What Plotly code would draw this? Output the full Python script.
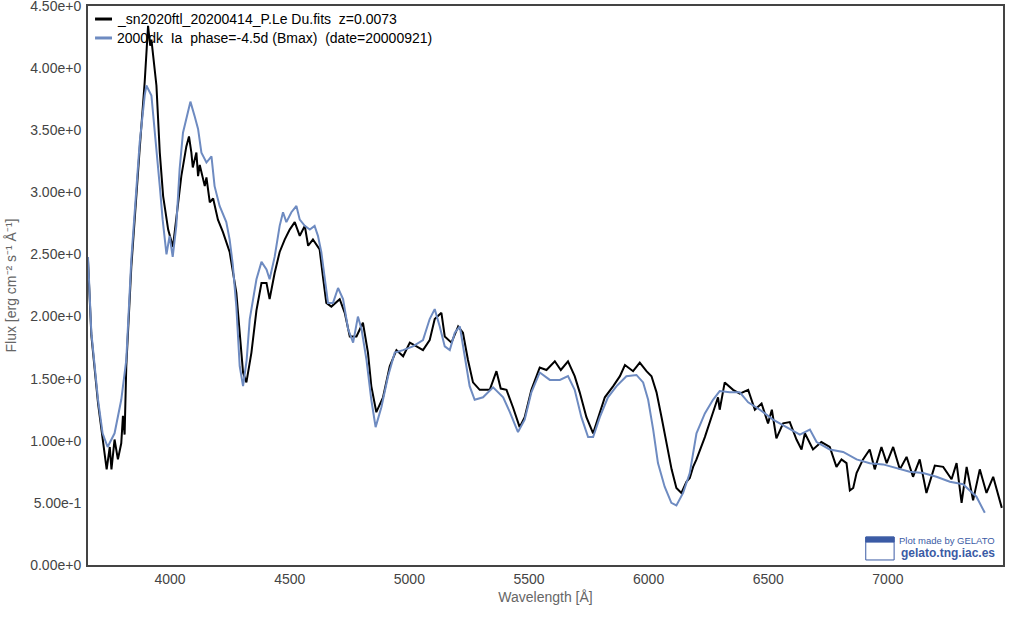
import plotly.graph_objects as go

# Observed spectrum (black)
obs_wave = [3657, 3671, 3699, 3718, 3735, 3748, 3755, 3768, 3782, 3796, 3803, 3810, 3817, 3838, 3852,
            3873, 3894, 3908, 3917, 3922, 3943, 3957, 3971, 3992, 4012, 4026, 4047, 4068, 4079, 4089,
            4095, 4110, 4117, 4124, 4145, 4152, 4166, 4180, 4200, 4221, 4249, 4277, 4291, 4305, 4319,
            4340, 4361, 4382, 4403, 4416, 4437, 4458, 4479, 4500, 4521, 4542, 4563, 4577, 4597, 4625,
            4639, 4653, 4674, 4709, 4730, 4751, 4779, 4806, 4827, 4841, 4862, 4890, 4918, 4946, 4974,
            5002, 5030, 5057, 5085, 5106, 5134, 5148, 5176, 5204, 5224, 5245, 5266, 5294, 5336, 5364,
            5382, 5406, 5433, 5461, 5482, 5510, 5545, 5573, 5608, 5633, 5663, 5691, 5712, 5740, 5768,
            5789, 5817, 5852, 5880, 5901, 5935, 5963, 5991, 6012, 6033, 6054, 6075, 6096, 6116, 6137,
            6158, 6172, 6186, 6200, 6235, 6263, 6290, 6297, 6318, 6353, 6381, 6416, 6444, 6472, 6499,
            6515, 6534, 6562, 6590, 6618, 6639, 6653, 6687, 6722, 6757, 6785, 6806, 6827, 6841, 6855,
            6869, 6896, 6924, 6945, 6973, 6995, 7022, 7050, 7078, 7105, 7133, 7161, 7196, 7231, 7266,
            7287, 7308, 7329, 7356, 7384, 7412, 7440, 7468, 7476]
obs_flux = [2.45, 1.85, 1.30, 1.00, 0.77, 0.95, 0.77, 1.01, 0.85, 0.98, 1.20, 1.05, 1.60, 2.40, 2.81,
            3.35, 3.89, 4.34, 4.18, 4.23, 3.86, 3.32, 2.97, 2.70, 2.56, 2.78, 3.13, 3.37, 3.45, 3.32,
            3.20, 3.32, 3.13, 3.22, 3.05, 3.12, 2.92, 2.95, 2.78, 2.68, 2.52, 2.19, 1.87, 1.55, 1.47,
            1.71, 2.05, 2.27, 2.27, 2.14, 2.35, 2.52, 2.62, 2.70, 2.76, 2.65, 2.73, 2.57, 2.62, 2.54,
            2.32, 2.11, 2.08, 2.14, 2.03, 1.84, 1.84, 1.95, 1.71, 1.44, 1.23, 1.35, 1.60, 1.73, 1.68,
            1.79, 1.76, 1.73, 1.81, 1.98, 2.03, 1.84, 1.79, 1.92, 1.87, 1.65, 1.47, 1.41, 1.41, 1.56,
            1.42, 1.41, 1.27, 1.11, 1.19, 1.41, 1.59, 1.57, 1.64, 1.57, 1.64, 1.52, 1.39, 1.19, 1.06,
            1.19, 1.35, 1.44, 1.52, 1.61, 1.56, 1.63, 1.56, 1.52, 1.39, 1.19, 0.98, 0.77, 0.62, 0.58,
            0.67, 0.70, 0.79, 0.85, 1.03, 1.19, 1.35, 1.25, 1.47, 1.41, 1.38, 1.41, 1.25, 1.30, 1.14,
            1.25, 1.02, 1.14, 1.15, 1.01, 0.93, 1.06, 0.93, 0.99, 0.95, 0.79, 0.85, 0.82, 0.60, 0.62,
            0.74, 0.85, 0.93, 0.77, 0.95, 0.82, 0.95, 0.77, 0.87, 0.71, 0.85, 0.58, 0.80, 0.79, 0.69,
            0.82, 0.50, 0.79, 0.52, 0.77, 0.58, 0.71, 0.50, 0.46]

# Template spectrum (blue)
tpl_wave = [3657, 3671, 3699, 3718, 3739, 3768, 3796, 3817, 3838, 3859, 3873, 3894, 3901, 3922, 3936,
            3943, 3957, 3969, 3985, 3998, 4011, 4026, 4040, 4054, 4075, 4085, 4103, 4117, 4131, 4152,
            4173, 4186, 4207, 4235, 4249, 4262, 4277, 4291, 4305, 4320, 4333, 4361, 4382, 4403, 4416,
            4437, 4458, 4472, 4486, 4507, 4528, 4542, 4563, 4584, 4604, 4618, 4632, 4646, 4660, 4681,
            4702, 4723, 4744, 4765, 4785, 4800, 4821, 4841, 4859, 4883, 4911, 4939, 4974, 5015, 5057,
            5085, 5106, 5127, 5148, 5169, 5190, 5211, 5232, 5252, 5273, 5308, 5350, 5392, 5420, 5454,
            5482, 5510, 5545, 5587, 5629, 5663, 5691, 5719, 5747, 5768, 5796, 5830, 5866, 5907, 5949,
            5977, 5998, 6019, 6039, 6067, 6095, 6116, 6144, 6172, 6200, 6235, 6269, 6297, 6339, 6381,
            6416, 6465, 6520, 6576, 6632, 6674, 6702, 6757, 6813, 6869, 6924, 6980, 7036, 7091, 7147,
            7203, 7259, 7314, 7370, 7405]
tpl_flux = [2.48, 1.87, 1.33, 1.06, 0.95, 1.06, 1.33, 1.65, 2.46, 3.05, 3.40, 3.78, 3.86, 3.78, 3.51,
            3.32, 3.05, 2.78, 2.50, 2.65, 2.48, 2.73, 3.19, 3.48, 3.64, 3.73, 3.61, 3.51, 3.32, 3.24,
            3.29, 3.05, 2.89, 2.76, 2.62, 2.42, 2.08, 1.60, 1.44, 1.65, 1.98, 2.30, 2.44, 2.38, 2.30,
            2.48, 2.73, 2.84, 2.76, 2.84, 2.89, 2.78, 2.73, 2.70, 2.73, 2.65, 2.52, 2.30, 2.11, 2.11,
            2.23, 2.14, 1.90, 1.79, 2.00, 1.90, 1.65, 1.33, 1.11, 1.27, 1.52, 1.71, 1.73, 1.76, 1.81,
            1.98, 2.06, 1.92, 1.76, 1.73, 1.87, 1.92, 1.68, 1.44, 1.33, 1.35, 1.43, 1.35, 1.23, 1.07,
            1.17, 1.39, 1.55, 1.49, 1.49, 1.52, 1.41, 1.19, 1.03, 1.03, 1.19, 1.35, 1.44, 1.52, 1.53,
            1.47, 1.33, 1.09, 0.82, 0.63, 0.50, 0.48, 0.58, 0.74, 1.06, 1.22, 1.33, 1.40, 1.39, 1.39,
            1.31, 1.25, 1.17, 1.11, 1.05, 1.09, 0.99, 0.93, 0.91, 0.85, 0.82, 0.81, 0.78, 0.75, 0.74,
            0.71, 0.67, 0.65, 0.55, 0.42]

obs_name = "_sn2020ftl_20200414_P.Le Du.fits\u00a0\u00a0z=0.0073"
tpl_name = "2000dk\u00a0\u00a0Ia\u00a0\u00a0phase=-4.5d (Bmax)\u00a0\u00a0(date=20000921)"

x_ticks = [4000, 4500, 5000, 5500, 6000, 6500, 7000]
y_ticks = [0, 0.5, 1.0, 1.5, 2.0, 2.5, 3.0, 3.5, 4.0, 4.5]
y_tick_text = ["0.00e+0", "5.00e-1", "1.00e+0", "1.50e+0", "2.00e+0", "2.50e+0",
               "3.00e+0", "3.50e+0", "4.00e+0", "4.50e+0"]

FONT = "Arial, 'Liberation Sans', sans-serif"
BLUE = "#6e8bc1"
LOGO = "#3b5ba5"

fig = go.Figure()
fig.add_trace(go.Scatter(x=obs_wave, y=obs_flux, mode="lines", name=obs_name,
                         line=dict(color="black", width=2), showlegend=False))
fig.add_trace(go.Scatter(x=tpl_wave, y=tpl_flux, mode="lines", name=tpl_name,
                         line=dict(color=BLUE, width=2), showlegend=False))

fig.update_layout(
    width=1018, height=617,
    margin=dict(l=88, r=15, t=6, b=52),
    paper_bgcolor="white", plot_bgcolor="white",
    font=dict(family=FONT, size=14, color="#444"),
    showlegend=False,
    xaxis=dict(range=[3657, 7481], tickvals=x_ticks, showgrid=False, zeroline=False,
               showline=True, linecolor="#444", linewidth=2, mirror=True, ticks="",
               automargin=False, ticklabelstandoff=0, ticklabeloverflow="allow",
               tickfont=dict(size=14, color="#444"),
               title=dict(text="Wavelength [Å]", font=dict(size=14, color="#666"), standoff=6)),
    yaxis=dict(range=[0, 4.5], tickvals=y_ticks, ticktext=y_tick_text, showgrid=False, zeroline=False,
               showline=True, linecolor="#444", linewidth=2, mirror=True, ticks="",
               automargin=False, ticklabelstandoff=2, ticklabeloverflow="allow",
               tickfont=dict(size=14, color="#444"),
               title=dict(text="Flux [erg cm⁻² s⁻¹ Å⁻¹]", font=dict(size=14, color="#666"), standoff=10)),
)

# Legend drawn in the top-left corner of the plot
legend_rows = [(obs_name, "black", 0.9767), (tpl_name, BLUE, 0.9428)]
for text, color, yy in legend_rows:
    fig.add_shape(type="line", xref="paper", yref="paper", x0=0.0077, x1=0.0262, y0=yy, y1=yy,
                  line=dict(color=color, width=3))
    fig.add_annotation(xref="paper", yref="paper", x=0.0295, y=yy, text=text, showarrow=False,
                       xanchor="left", yanchor="middle", font=dict(family=FONT, size=14, color="black"))

# GELATO credit
fig.add_shape(type="rect", xref="paper", yref="paper", x0=0.850, x1=0.881, y0=0.009, y1=0.050,
              line=dict(color=LOGO, width=1), fillcolor="white")
fig.add_shape(type="rect", xref="paper", yref="paper", x0=0.850, x1=0.881, y0=0.041, y1=0.050,
              line=dict(color=LOGO, width=1), fillcolor=LOGO)
fig.add_annotation(xref="paper", yref="paper", x=0.993, y=0.043, text="Plot made by GELATO",
                   showarrow=False, xanchor="right", yanchor="middle",
                   font=dict(family=FONT, size=9.5, color=LOGO))
fig.add_annotation(xref="paper", yref="paper", x=0.993, y=0.021, text="<b>gelato.tng.iac.es</b>",
                   showarrow=False, xanchor="right", yanchor="middle",
                   font=dict(family=FONT, size=12, color=LOGO))

fig.write_html("out.html", config={"displayModeBar": False},
               post_script="document.body.style.margin='0';")
